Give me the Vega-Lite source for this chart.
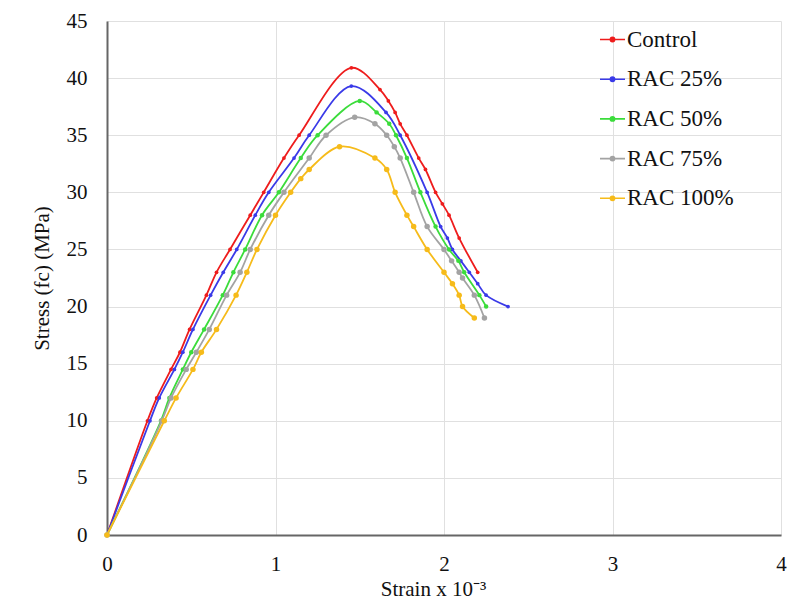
{
  "$schema": "https://vega.github.io/schema/vega-lite/v6.json",
  "width": 674,
  "height": 514,
  "autosize": {"type": "none"},
  "padding": {"left": 107, "top": 21, "right": 7, "bottom": 64},
  "background": "white",
  "config": {
    "view": {"stroke": null},
    "font": "Liberation Serif",
    "axis": {
      "labelFont": "Liberation Serif",
      "titleFont": "Liberation Serif",
      "labelFontSize": 21,
      "titleFontSize": 21,
      "titleFontWeight": "normal",
      "labelColor": "#111111",
      "titleColor": "#111111",
      "gridColor": "#e0e0e0",
      "gridWidth": 1,
      "ticks": false,
      "labelFlush": false,
      "domainColor": "#666666",
      "domainWidth": 2
    }
  },
  "data": {"values": [
    {"s":"Control","x":0,"y":0},{"s":"Control","x":0.24,"y":10},{"s":"Control","x":0.295,"y":12},{"s":"Control","x":0.38,"y":14.5},{"s":"Control","x":0.433,"y":16},{"s":"Control","x":0.49,"y":18},{"s":"Control","x":0.59,"y":21},{"s":"Control","x":0.65,"y":23},{"s":"Control","x":0.73,"y":25},{"s":"Control","x":0.85,"y":28},{"s":"Control","x":0.93,"y":30},{"s":"Control","x":1.05,"y":33},{"s":"Control","x":1.14,"y":35},{"s":"Control","x":1.45,"y":40.9},{"s":"Control","x":1.62,"y":39},{"s":"Control","x":1.67,"y":38},{"s":"Control","x":1.71,"y":37},{"s":"Control","x":1.74,"y":36},{"s":"Control","x":1.78,"y":35},{"s":"Control","x":1.85,"y":33},{"s":"Control","x":1.89,"y":32},{"s":"Control","x":1.95,"y":30},{"s":"Control","x":1.99,"y":29},{"s":"Control","x":2.03,"y":28},{"s":"Control","x":2.09,"y":26},{"s":"Control","x":2.2,"y":23},
    {"s":"RAC 25%","x":0,"y":0},{"s":"RAC 25%","x":0.255,"y":10},{"s":"RAC 25%","x":0.31,"y":12},{"s":"RAC 25%","x":0.4,"y":14.5},{"s":"RAC 25%","x":0.45,"y":16},{"s":"RAC 25%","x":0.51,"y":18},{"s":"RAC 25%","x":0.615,"y":21},{"s":"RAC 25%","x":0.69,"y":23},{"s":"RAC 25%","x":0.77,"y":25},{"s":"RAC 25%","x":0.88,"y":28},{"s":"RAC 25%","x":0.96,"y":30},{"s":"RAC 25%","x":1.11,"y":33},{"s":"RAC 25%","x":1.2,"y":35},{"s":"RAC 25%","x":1.45,"y":39.3},{"s":"RAC 25%","x":1.656,"y":37},{"s":"RAC 25%","x":1.74,"y":35},{"s":"RAC 25%","x":1.9,"y":30},{"s":"RAC 25%","x":1.98,"y":27},{"s":"RAC 25%","x":2.02,"y":26},{"s":"RAC 25%","x":2.05,"y":25},{"s":"RAC 25%","x":2.1,"y":24},{"s":"RAC 25%","x":2.15,"y":23},{"s":"RAC 25%","x":2.2,"y":22},{"s":"RAC 25%","x":2.25,"y":21},{"s":"RAC 25%","x":2.38,"y":20},
    {"s":"RAC 50%","x":0,"y":0},{"s":"RAC 50%","x":0.32,"y":10},{"s":"RAC 50%","x":0.37,"y":12},{"s":"RAC 50%","x":0.45,"y":14.5},{"s":"RAC 50%","x":0.5,"y":16},{"s":"RAC 50%","x":0.576,"y":18},{"s":"RAC 50%","x":0.687,"y":21},{"s":"RAC 50%","x":0.75,"y":23},{"s":"RAC 50%","x":0.82,"y":25},{"s":"RAC 50%","x":0.92,"y":28},{"s":"RAC 50%","x":1.02,"y":30},{"s":"RAC 50%","x":1.15,"y":33},{"s":"RAC 50%","x":1.25,"y":35},{"s":"RAC 50%","x":1.5,"y":38},{"s":"RAC 50%","x":1.6,"y":37},{"s":"RAC 50%","x":1.675,"y":36},{"s":"RAC 50%","x":1.715,"y":35},{"s":"RAC 50%","x":1.78,"y":33},{"s":"RAC 50%","x":1.86,"y":30},{"s":"RAC 50%","x":1.95,"y":27},{"s":"RAC 50%","x":2.03,"y":25},{"s":"RAC 50%","x":2.085,"y":24},{"s":"RAC 50%","x":2.12,"y":23},{"s":"RAC 50%","x":2.21,"y":21},{"s":"RAC 50%","x":2.25,"y":20},
    {"s":"RAC 75%","x":0,"y":0},{"s":"RAC 75%","x":0.325,"y":10},{"s":"RAC 75%","x":0.38,"y":12},{"s":"RAC 75%","x":0.47,"y":14.5},{"s":"RAC 75%","x":0.53,"y":16},{"s":"RAC 75%","x":0.607,"y":18},{"s":"RAC 75%","x":0.71,"y":21},{"s":"RAC 75%","x":0.79,"y":23},{"s":"RAC 75%","x":0.85,"y":25},{"s":"RAC 75%","x":0.96,"y":28},{"s":"RAC 75%","x":1.05,"y":30},{"s":"RAC 75%","x":1.2,"y":33},{"s":"RAC 75%","x":1.3,"y":35},{"s":"RAC 75%","x":1.47,"y":36.57},{"s":"RAC 75%","x":1.59,"y":36},{"s":"RAC 75%","x":1.66,"y":35},{"s":"RAC 75%","x":1.705,"y":34},{"s":"RAC 75%","x":1.74,"y":33},{"s":"RAC 75%","x":1.82,"y":30},{"s":"RAC 75%","x":1.9,"y":27},{"s":"RAC 75%","x":2.0,"y":25},{"s":"RAC 75%","x":2.045,"y":24},{"s":"RAC 75%","x":2.09,"y":23},{"s":"RAC 75%","x":2.11,"y":22.5},{"s":"RAC 75%","x":2.18,"y":21},{"s":"RAC 75%","x":2.24,"y":19},
    {"s":"RAC 100%","x":0,"y":0},{"s":"RAC 100%","x":0.34,"y":10},{"s":"RAC 100%","x":0.41,"y":12},{"s":"RAC 100%","x":0.51,"y":14.5},{"s":"RAC 100%","x":0.56,"y":16},{"s":"RAC 100%","x":0.65,"y":18},{"s":"RAC 100%","x":0.766,"y":21},{"s":"RAC 100%","x":0.83,"y":23},{"s":"RAC 100%","x":0.89,"y":25},{"s":"RAC 100%","x":1.0,"y":28},{"s":"RAC 100%","x":1.09,"y":30},{"s":"RAC 100%","x":1.15,"y":31.2},{"s":"RAC 100%","x":1.2,"y":32},{"s":"RAC 100%","x":1.38,"y":34},{"s":"RAC 100%","x":1.59,"y":33},{"s":"RAC 100%","x":1.66,"y":32},{"s":"RAC 100%","x":1.71,"y":30},{"s":"RAC 100%","x":1.78,"y":28},{"s":"RAC 100%","x":1.82,"y":27},{"s":"RAC 100%","x":1.9,"y":25},{"s":"RAC 100%","x":2.0,"y":23},{"s":"RAC 100%","x":2.05,"y":22},{"s":"RAC 100%","x":2.09,"y":21},{"s":"RAC 100%","x":2.11,"y":20},{"s":"RAC 100%","x":2.18,"y":19}
  ]},
  "encoding": {
    "x": {"field": "x", "type": "quantitative",
      "scale": {"domain": [0, 4], "nice": false},
      "axis": {"values": [0,1,2,3,4], "title": "Strain x 10⁻³", "labelPadding": 18, "titlePadding": 4, "titleX": 326}},
    "y": {"field": "y", "type": "quantitative",
      "scale": {"domain": [0, 45], "nice": false},
      "axis": {"values": [0,5,10,15,20,25,30,35,40,45], "title": "Stress (fc) (MPa)", "labelPadding": 20, "titlePadding": 14}},
    "color": {"field": "s", "type": "nominal",
      "scale": {"domain": ["Control","RAC 25%","RAC 50%","RAC 75%","RAC 100%"],
                "range": ["#ee1c1c","#3a3ae8","#3bdc3b","#a3a3a3","#f6bb1a"]},
      "legend": {
        "title": null, "orient": "none", "legendX": 492, "legendY": 5, "padding": 0,
        "labelFont": "Liberation Serif", "labelFontSize": 23, "labelColor": "#111111",
        "symbolType": "M-1,0H1M-0.17,0a0.17,0.17 0 1,0 0.34,0a0.17,0.17 0 1,0 -0.34,0",
        "symbolSize": 625, "symbolStrokeWidth": 1.6, "rowPadding": 13.7, "labelOffset": 1,
        "encode": {"symbols": {"update": {"fill": {"scale": "color", "field": "value"}, "stroke": {"scale": "color", "field": "value"}, "opacity": {"value": 1}, "size": {"value": 625}}}}
      }}
  },
  "layer": [
    {"mark": {"type": "line", "interpolate": "catmull-rom", "strokeWidth": 1.8}},
    {"transform": [{"filter": "datum.s == 'Control' || datum.s == 'RAC 25%'"}],
     "mark": {"type": "point", "filled": true, "opacity": 1, "size": 14}},
    {"transform": [{"filter": "datum.s == 'RAC 50%'"}],
     "mark": {"type": "point", "filled": true, "opacity": 1, "size": 20}},
    {"transform": [{"filter": "datum.s == 'RAC 75%' || datum.s == 'RAC 100%'"}],
     "mark": {"type": "point", "filled": true, "opacity": 1, "size": 30}}
  ]
}
